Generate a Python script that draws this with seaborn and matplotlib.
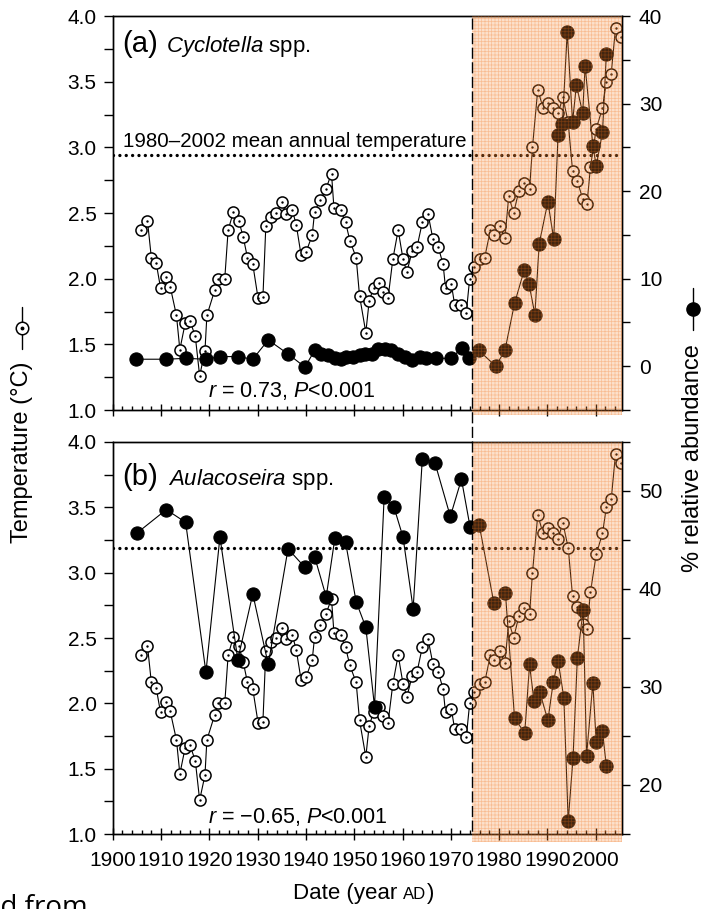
import matplotlib
matplotlib.use('Agg')
import matplotlib.pyplot as plt
import matplotlib.transforms as mtransforms
from matplotlib.lines import Line2D
from matplotlib.patches import Rectangle
from matplotlib.ticker import MultipleLocator, FormatStrFormatter
import seaborn as sns

# Dados (temperatura e abundancia relativa)

anos_temp = [1905.9, 1907.2, 1908.0, 1909.0, 1909.9, 1911.1, 1911.9, 1913.2, 1913.9, 1915.0,
             1916.0, 1917.1, 1918.0, 1919.1, 1919.5, 1921.1, 1921.8, 1923.2, 1923.9, 1925.0,
             1926.1, 1927.0, 1927.9, 1929.0, 1930.1, 1931.1, 1931.7, 1932.8, 1933.8, 1935.1,
             1935.9, 1937.2, 1938.0, 1939.0, 1940.0, 1941.3, 1941.8, 1943.0, 1944.1, 1945.3,
             1945.8, 1947.2, 1948.2, 1949.1, 1950.4, 1951.1, 1952.4, 1953.1, 1954.0, 1955.1,
             1956.0, 1957.0, 1958.0, 1959.1, 1960.1, 1960.9, 1962.0, 1963.0, 1964.1, 1965.3,
             1966.3, 1967.4, 1968.4, 1968.9, 1970.1, 1970.8, 1972.2, 1973.2, 1973.9, 1974.9,
             1976.0, 1977.0, 1978.2, 1978.9, 1980.1, 1981.2, 1982.0, 1983.0, 1984.1, 1985.2,
             1986.3, 1986.9, 1988.0, 1989.1, 1990.1, 1991.2, 1992.2, 1993.2, 1994.3, 1995.2,
             1996.2, 1997.3, 1998.2, 1998.9, 2000.1, 2001.4, 2002.2, 2003.2, 2004.1, 2005.3]
temperatura = [2.37, 2.44, 2.16, 2.12, 1.93, 2.01, 1.94, 1.72, 1.46, 1.66,
               1.68, 1.56, 1.26, 1.45, 1.72, 1.91, 2.00, 2.00, 2.37, 2.51,
               2.44, 2.32, 2.16, 2.11, 1.85, 1.86, 2.40, 2.47, 2.50, 2.58,
               2.49, 2.52, 2.41, 2.18, 2.20, 2.33, 2.51, 2.60, 2.68, 2.80,
               2.54, 2.52, 2.43, 2.29, 2.16, 1.87, 1.59, 1.83, 1.93, 1.97,
               1.90, 1.85, 2.15, 2.37, 2.15, 2.05, 2.21, 2.24, 2.43, 2.49,
               2.30, 2.24, 2.11, 1.93, 1.96, 1.80, 1.80, 1.74, 2.00, 2.09,
               2.15, 2.16, 2.37, 2.33, 2.40, 2.31, 2.63, 2.50, 2.67, 2.73,
               2.68, 3.00, 3.44, 3.30, 3.34, 3.30, 3.26, 3.38, 3.19, 2.82,
               2.74, 2.61, 2.57, 2.85, 3.14, 3.30, 3.50, 3.56, 3.91, 3.84]

anos_cyc = [1904.9, 1911.1, 1915.1, 1919.3, 1922.2, 1925.9, 1929.0, 1932.2, 1936.3, 1939.8,
            1941.8, 1943.2, 1944.6, 1946.0, 1947.2, 1948.4, 1949.7, 1951.1, 1952.2, 1953.6,
            1954.9, 1956.3, 1957.7, 1959.1, 1960.5, 1962.0, 1963.6, 1964.9, 1967.0, 1970.1,
            1972.3, 1973.8, 1975.8, 1979.3, 1981.2, 1983.2, 1985.2, 1986.2, 1987.4, 1988.3,
            1990.1, 1991.3, 1992.2, 1993.1, 1994.1, 1995.2, 1996.0, 1997.3, 1997.8, 1999.4,
            2000.1, 2001.4, 2002.2]
cyclotella = [0.8, 0.8, 0.9, 0.8, 1.1, 1.1, 0.8, 3.0, 1.4, -0.1,
              1.8, 1.4, 1.3, 0.9, 0.8, 1.1, 1.1, 1.3, 1.4, 1.4,
              2.0, 2.0, 1.8, 1.4, 1.1, 0.7, 1.1, 0.9, 0.9, 0.9,
              2.1, 0.9, 1.8, 0.0, 1.8, 7.2, 11.0, 9.4, 5.9, 14.0,
              18.8, 14.5, 26.4, 27.7, 38.2, 27.9, 32.1, 28.9, 34.3, 25.2,
              22.9, 26.7, 35.7]

anos_aul = [1905.0, 1911.1, 1915.1, 1919.3, 1922.2, 1925.9, 1929.0, 1932.2, 1936.3, 1939.8,
            1941.8, 1944.2, 1946.0, 1948.2, 1950.4, 1952.4, 1954.2, 1956.2, 1958.2, 1960.1,
            1962.2, 1964.1, 1966.7, 1969.9, 1972.2, 1974.0, 1975.9, 1978.9, 1981.3, 1983.2,
            1985.3, 1986.3, 1987.2, 1988.4, 1990.1, 1991.2, 1992.2, 1993.4, 1994.3, 1995.3,
            1996.2, 1997.4, 1998.1, 1999.4, 2000.1, 2001.4, 2002.2]
aulacoseira = [45.7, 48.1, 46.8, 31.5, 45.3, 32.8, 39.5, 32.3, 44.1, 42.2,
               43.3, 39.2, 45.2, 44.8, 38.7, 36.1, 28.0, 49.4, 48.4, 45.3,
               38.0, 53.3, 52.9, 47.4, 51.2, 46.3, 46.5, 38.6, 39.6, 26.8,
               25.3, 32.3, 28.6, 29.5, 26.6, 30.5, 32.7, 28.9, 16.3, 22.8,
               33.0, 37.9, 23.0, 30.4, 24.4, 25.5, 21.9]

media_a = 2.94   # linha pontilhada painel (a)
media_b = 3.19   # linha pontilhada painel (b)
inicio_sombra = 1974.3
xmin, xmax = 1900, 2005.5

sns.set_style('ticks')
plt.rcParams['font.family'] = ['Liberation Sans', 'DejaVu Sans']
plt.rcParams['mathtext.fontset'] = 'custom'
plt.rcParams['mathtext.rm'] = 'Liberation Sans'
plt.rcParams['mathtext.it'] = 'Liberation Sans:italic'
plt.rcParams['axes.edgecolor'] = 'black'
plt.rcParams['text.color'] = 'black'
plt.rcParams['xtick.color'] = 'black'
plt.rcParams['ytick.color'] = 'black'
plt.rcParams['hatch.linewidth'] = 0.5

W, H = 707, 909
fig = plt.figure(figsize=(W / 100, H / 100), dpi=100)


def ret(x0, y0, x1, y1):
    return [x0 / W, 1 - y1 / H, (x1 - x0) / W, (y1 - y0) / H]


ax_a = fig.add_axes(ret(112.7, 16, 622.3, 410))
ax_b = fig.add_axes(ret(112.7, 442, 622.3, 834))


def painel(ax, anos_ab, abund, lim2, maj2, media, letra, nome, x_nome, y_txt, txt_r, y_r, fundo):
    # temperatura (circulos abertos com ponto)
    sns.lineplot(x=anos_temp, y=temperatura, ax=ax, color='black', linewidth=0.8,
                 marker='o', markersize=8, markerfacecolor='white', markeredgecolor='black',
                 markeredgewidth=1.1, estimator=None, sort=False, zorder=3)
    sns.scatterplot(x=anos_temp, y=temperatura, ax=ax, color='black', s=3, linewidth=0, zorder=4)
    ax.axhline(media, color='black', linewidth=2.4, linestyle=(0, (0.01, 1.9)),
               dash_capstyle='round', zorder=2)

    ax.set_xlim(xmin, xmax)
    ax.set_ylim(1.0, 4.0)
    ax.xaxis.set_major_locator(MultipleLocator(10))
    ax.xaxis.set_minor_locator(MultipleLocator(2))
    ax.yaxis.set_major_locator(MultipleLocator(0.5))
    ax.yaxis.set_minor_locator(MultipleLocator(0.25))
    ax.yaxis.set_major_formatter(FormatStrFormatter('%.1f'))
    ax.tick_params(axis='x', which='major', direction='inout', length=8.6, width=1, pad=8,
                   labelsize=15, labelfontfamily=['Liberation Sans Narrow', 'Liberation Sans'])
    ax.tick_params(axis='x', which='minor', direction='in', length=3, width=1)
    ax.tick_params(axis='y', which='both', direction='out', length=6.5, width=1, pad=5, labelsize=15)
    ax.set_xlabel('')
    ax.set_ylabel('')

    # abundancia relativa (circulos cheios)
    ax2 = ax.twinx()
    sns.lineplot(x=anos_ab, y=abund, ax=ax2, color='black', linewidth=0.8,
                 marker='o', markersize=9.5, markerfacecolor='black', markeredgecolor='black',
                 markeredgewidth=0.8, estimator=None, sort=False, zorder=3)
    ax2.set_ylim(*lim2)
    ax2.set_yticks(maj2)
    ax2.yaxis.set_minor_locator(MultipleLocator(5))
    ax2.tick_params(axis='y', which='both', direction='out', length=6, width=1, pad=6, labelsize=15)
    ax2.set_ylabel('')

    # faixa laranja 1974-2005
    trans = mtransforms.blended_transform_factory(ax2.transData, ax2.transAxes)
    ax2.add_patch(Rectangle((inicio_sombra, fundo), xmax - inicio_sombra, 1 - fundo, transform=trans,
                            facecolor='#f78f3f', alpha=0.27, linewidth=0, zorder=10, clip_on=False))
    ax2.add_patch(Rectangle((inicio_sombra, fundo), xmax - inicio_sombra, 1 - fundo, transform=trans,
                            facecolor='none', edgecolor='#f26a10', hatch='+++++', alpha=0.3,
                            linewidth=0, zorder=11, clip_on=False))
    ax2.set_xlim(xmin, xmax)

    for s in list(ax.spines.values()) + list(ax2.spines.values()):
        s.set_linewidth(1.0)

    ax.text(0.0196, y_txt, letra, transform=ax.transAxes, fontsize=21, va='baseline')
    ax.text(x_nome, y_txt, nome, transform=ax.transAxes, fontsize=16, va='baseline')
    ax.text(0.187, y_r, txt_r, transform=ax.transAxes, fontsize=15.5, va='baseline')
    return ax2


painel(ax_a, anos_cyc, cyclotella, (-5, 40), [0, 10, 20, 30, 40], media_a, '(a)',
       r'$\mathit{Cyclotella}$ spp.', 0.104, 0.9086, r'$r$ = 0.73, $P$<0.001', 0.033, -0.013)
painel(ax_b, anos_aul, aulacoseira, (15, 55), [20, 30, 40, 50], media_b, '(b)',
       r'$\mathit{Aulacoseira}$ spp.', 0.108, 0.890, r'$r$ = −0.65, $P$<0.001', 0.028, -0.02)
ax_a.tick_params(axis='x', labelbottom=False)

ax_a.text(0.020, 0.6675, '1980–2002 mean annual temperature', transform=ax_a.transAxes,
          fontsize=14.8, va='baseline')

# linha tracejada vertical atravessando os dois paineis
x_fig = (112.7 + (inicio_sombra - xmin) / (xmax - xmin) * 509.6) / W
fig.add_artist(Line2D([x_fig, x_fig], [1 - 18 / H, 1 - 834 / H], transform=fig.transFigure,
                      color='black', linewidth=1.0, linestyle=(0, (8, 2.5))))

# rotulos dos eixos
fig.text(22 / W, 1 - 452 / H, 'Temperature (°C)', rotation=90, ha='center', va='center', fontsize=17)
fig.add_artist(Line2D([22 / W, 22 / W], [1 - 307 / H, 1 - 349 / H], transform=fig.transFigure,
                      color='black', linewidth=1.0))
fig.add_artist(Line2D([22 / W], [1 - 328 / H], transform=fig.transFigure, marker='o', markersize=9,
                      markerfacecolor='white', markeredgecolor='black', markeredgewidth=1.1))
fig.add_artist(Line2D([22 / W], [1 - 328 / H], transform=fig.transFigure, marker='o', markersize=1.8,
                      color='black'))

fig.text(693 / W, 1 - 458 / H, '% relative abundance', rotation=90, ha='center', va='center', fontsize=17)
fig.add_artist(Line2D([693 / W, 693 / W], [1 - 288 / H, 1 - 330 / H], transform=fig.transFigure,
                      color='black', linewidth=1.0))
fig.add_artist(Line2D([693 / W], [1 - 309 / H], transform=fig.transFigure, marker='o', markersize=9.5,
                      color='black'))

t1 = fig.text(293 / W, 1 - 899 / H, 'Date (year', fontsize=16, va='baseline')
ax_b.annotate('AD', xy=(1, 0), xycoords=t1, xytext=(4, 1.3), textcoords='offset points',
              fontsize=12, va='bottom', annotation_clip=False)
ax_b.annotate(')', xy=(1, 0), xycoords=t1, xytext=(21.5, 0), textcoords='offset points',
              fontsize=16, va='bottom', annotation_clip=False)

# texto cortado no rodape da imagem original
fig.text(-15 / W, 1 - 915 / H, 'ed from', fontsize=20, va='baseline', family=['Open Sans', 'DejaVu Sans'])

fig.savefig('out.png', dpi=100)
